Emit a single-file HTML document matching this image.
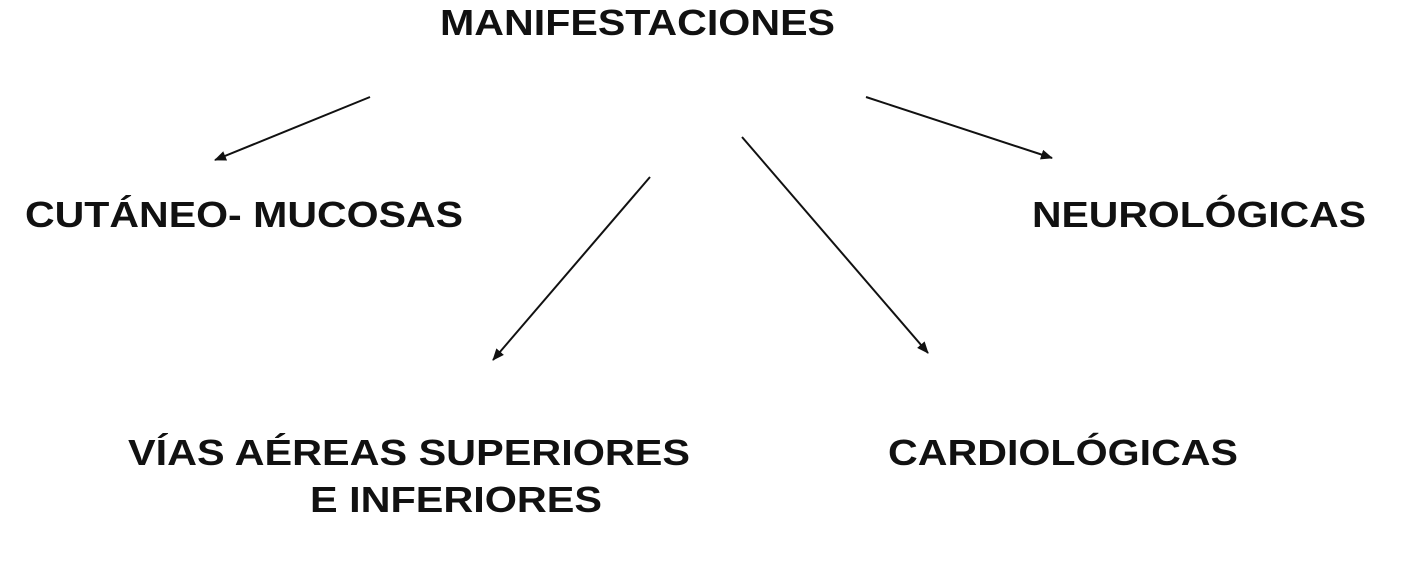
<!DOCTYPE html>
<html><head><meta charset="utf-8"><style>
html,body{margin:0;padding:0;background:#fff;}
svg{display:block}
text{font-family:"Liberation Sans",Arial,sans-serif;font-weight:bold;font-size:36px;fill:#111;}
</style></head><body>
<svg width="1410" height="570" viewBox="0 0 1410 570" xmlns="http://www.w3.org/2000/svg">
<defs><marker id="a" markerWidth="12" markerHeight="10" refX="11" refY="5" orient="auto" markerUnits="userSpaceOnUse"><path d="M0,0 L12,5 L0,10 z" fill="#111"/></marker></defs>
<text x="440" y="35" textLength="395" lengthAdjust="spacingAndGlyphs">MANIFESTACIONES</text>
<text x="25" y="227" textLength="438" lengthAdjust="spacingAndGlyphs">CUTÁNEO- MUCOSAS</text>
<text x="1032" y="227" textLength="334" lengthAdjust="spacingAndGlyphs">NEUROLÓGICAS</text>
<text x="128" y="465" textLength="562" lengthAdjust="spacingAndGlyphs">VÍAS AÉREAS SUPERIORES</text>
<text x="310" y="512" textLength="292" lengthAdjust="spacingAndGlyphs">E INFERIORES</text>
<text x="888" y="465" textLength="350" lengthAdjust="spacingAndGlyphs">CARDIOLÓGICAS</text>
<g stroke="#111" stroke-width="2" fill="none" marker-end="url(#a)">
<line x1="370" y1="97" x2="215" y2="160"/>
<line x1="650" y1="177" x2="493" y2="360"/>
<line x1="742" y1="137" x2="928" y2="353"/>
<line x1="866" y1="97" x2="1052" y2="158"/>
</g>
</svg>
</body></html>
